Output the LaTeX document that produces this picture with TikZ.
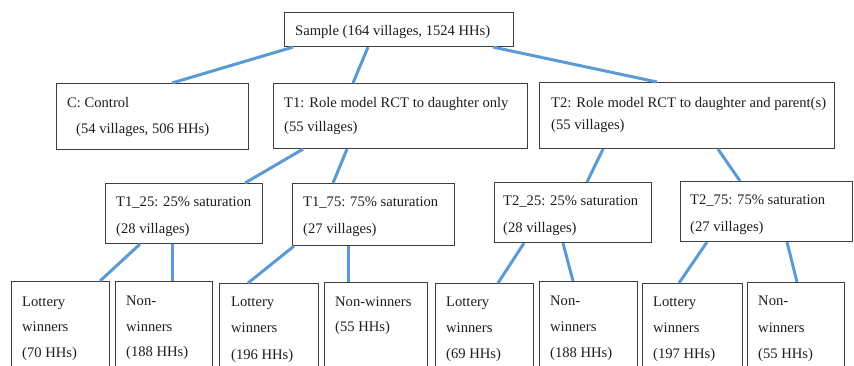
\documentclass[tikz,border=0pt]{standalone}
\usepackage{fontspec}
\setmainfont{Liberation Serif}
\usetikzlibrary{calc}
\definecolor{connblue}{RGB}{91,155,213}
\definecolor{boxgray}{RGB}{62,62,62}
\definecolor{txtgray}{RGB}{30,30,30}
\begin{document}
\begin{tikzpicture}[x=1pt,y=-1pt,
  box/.style={draw=boxgray,line width=1.1pt,inner sep=0pt,anchor=north west,minimum width=#1},
  box/.default=100pt,
  conn/.style={draw=connblue,line width=3pt},
  txt/.style={anchor=base west,inner sep=0pt,text=txtgray,font=\rmfamily\fontsize{14.6}{17}\selectfont}]
\useasboundingbox[fill=white] (0,0) rectangle (854,366);
% boxes
\node[box=229pt,minimum height=34pt] (S) at (284,12) {};
\node[box=192pt,minimum height=66pt] (C) at (56,83) {};
\node[box=254pt,minimum height=65pt] (T1) at (273,83) {};
\node[box=295pt,minimum height=66pt] (T2) at (539,82) {};
\node[box=157pt,minimum height=60pt] (T125) at (105,183) {};
\node[box=162pt,minimum height=62pt] (T175) at (292,183) {};
\node[box=157pt,minimum height=60pt] (T225) at (494,182) {};
\node[box=172pt,minimum height=60pt] (T275) at (680,181) {};
\node[box=98pt,minimum height=100pt] (LW1) at (11,281) {};
\node[box=97pt,minimum height=100pt] (NW1) at (115,281) {};
\node[box=99pt,minimum height=100pt] (LW2) at (219,283) {};
\node[box=103pt,minimum height=100pt] (NW2) at (324,282) {};
\node[box=98pt,minimum height=100pt] (LW3) at (435,283) {};
\node[box=98pt,minimum height=100pt] (NW3) at (539,281) {};
\node[box=100pt,minimum height=100pt] (LW4) at (642,283) {};
\node[box=97pt,minimum height=100pt] (NW4) at (747,282) {};
% texts
\node[txt] (s1) at (295,35.5) {Sample (164 villages, 1524 HHs)};
\node[txt] (c1) at (67,107.5) {C: Control};
\node[txt] (c2) at (76,133.5) {(54 villages, 506 HHs)};
\node[txt] (t11) at (284,107.5) {T1: Role model RCT to daughter only};
\node[txt] (t12) at (284,131.5) {(55 villages)};
\node[txt] (t21) at (551,107.5) {T2: Role model RCT to daughter and parent(s)};
\node[txt] (t22) at (551,129.5) {(55 villages)};
\node[txt] (a1) at (116,206.5) {T1\_25: 25\% saturation};
\node[txt] (a2) at (116,233.5) {(28 villages)};
\node[txt] (b1) at (303,206.5) {T1\_75: 75\% saturation};
\node[txt] (b2) at (303,233.5) {(27 villages)};
\node[txt] (d1) at (503,205.5) {T2\_25: 25\% saturation};
\node[txt] (d2) at (503,232.5) {(28 villages)};
\node[txt] (e1) at (690,204.5) {T2\_75: 75\% saturation};
\node[txt] (e2) at (690,231.5) {(27 villages)};
\node[txt] (lw1a) at (22,306.5) {Lottery};
\node[txt] (lw1b) at (22,331.5) {winners};
\node[txt] (lw1c) at (22,357) {(70 HHs)};
\node[txt] (nw1a) at (126,305.5) {Non-};
\node[txt] (nw1b) at (126,331) {winners};
\node[txt] (nw1c) at (126,356.5) {(188 HHs)};
\node[txt] (lw2a) at (231,306.5) {Lottery};
\node[txt] (lw2b) at (231,332.5) {winners};
\node[txt] (lw2c) at (231,359) {(196 HHs)};
\node[txt] (nw2a) at (335,306.5) {Non-winners};
\node[txt] (nw2b) at (335,331.5) {(55 HHs)};
\node[txt] (lw3a) at (446,306.5) {Lottery};
\node[txt] (lw3b) at (446,332.5) {winners};
\node[txt] (lw3c) at (446,358) {(69 HHs)};
\node[txt] (nw3a) at (550,305.5) {Non-};
\node[txt] (nw3b) at (550,331) {winners};
\node[txt] (nw3c) at (550,357) {(188 HHs)};
\node[txt] (lw4a) at (653,306.5) {Lottery};
\node[txt] (lw4b) at (653,332.5) {winners};
\node[txt] (lw4c) at (653,358) {(197 HHs)};
\node[txt] (nw4a) at (758,305.5) {Non-};
\node[txt] (nw4b) at (758,332.5) {winners};
\node[txt] (nw4c) at (758,358) {(55 HHs)};
% connectors
\draw[conn] ($(S.south west)+(9,0)$) -- ($(C.north west)+(116,0)$);
\draw[conn] ($(S.south west)+(84,0)$) -- ($(T1.north west)+(80,0)$);
\draw[conn] ($(S.south west)+(209,0)$) -- ($(T2.north west)+(118,0)$);
\draw[conn] ($(T1.south west)+(30,0)$) -- ($(T125.north west)+(140,0)$);
\draw[conn] ($(T1.south west)+(74,0)$) -- ($(T175.north west)+(41,0)$);
\draw[conn] ($(T2.south west)+(64,0)$) -- ($(T225.north west)+(93,0)$);
\draw[conn] ($(T2.south west)+(179,0)$) -- ($(T275.north west)+(60,0)$);
\draw[conn] ($(T125.south west)+(35,0)$) -- ($(LW1.north west)+(89,0)$);
\draw[conn] ($(T125.south west)+(67,0)$) -- ($(NW1.north west)+(57,0)$);
\draw[conn] ($(T175.south west)+(2,0)$) -- ($(LW2.north west)+(29,0)$);
\draw[conn] ($(T175.south west)+(56,0)$) -- ($(NW2.north west)+(24,0)$);
\draw[conn] ($(T225.south west)+(30,0)$) -- ($(LW3.north west)+(63,0)$);
\draw[conn] ($(T225.south west)+(69,0)$) -- ($(NW3.north west)+(34,0)$);
\draw[conn] ($(T275.south west)+(27,0)$) -- ($(LW4.north west)+(37,0)$);
\draw[conn] ($(T275.south west)+(107,0)$) -- ($(NW4.north west)+(50,0)$);
\end{tikzpicture}
\end{document}
